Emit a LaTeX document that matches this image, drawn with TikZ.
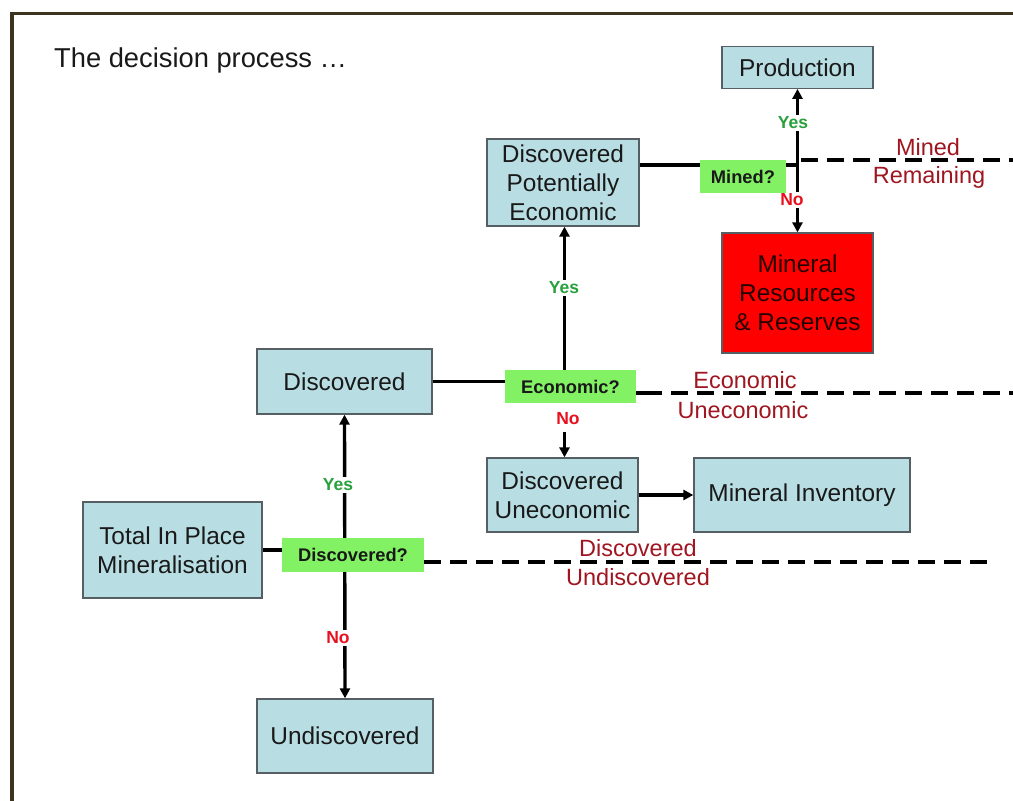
\documentclass[tikz,border=0pt]{standalone}
\usepackage{fontspec}
\setmainfont{Liberation Sans}
\usetikzlibrary{arrows.meta,backgrounds}
\definecolor{boxfill}{RGB}{184,222,227}
\definecolor{boxline}{RGB}{85,95,100}
\definecolor{qfill}{RGB}{130,242,100}
\definecolor{darkred}{RGB}{160,22,32}
\definecolor{yesgreen}{RGB}{40,160,60}
\definecolor{nored}{RGB}{232,16,30}
\definecolor{frame}{RGB}{60,52,32}
\definecolor{resred}{RGB}{255,0,0}
\begin{document}
\begin{tikzpicture}[x=1pt,y=-1pt,
  box/.style={draw=boxline,line width=1.3pt,fill=boxfill,inner sep=0pt,align=center,
    font=\fontsize{24.4}{29}\selectfont,text=black!90},
  resbox/.style={box,fill=resred,text=black!85!red},
  qbox/.style={fill=qfill,inner sep=0pt,font=\fontsize{18.3}{21}\selectfont\bfseries,text=black!90},
  yes/.style={fill=white,inner sep=2pt,text=yesgreen,font=\fontsize{17.5}{20}\selectfont\bfseries},
  no/.style={fill=white,inner sep=2pt,text=nored,font=\fontsize{17.5}{20}\selectfont\bfseries},
  lab/.style={text=darkred,inner sep=0pt,font=\fontsize{23.5}{28}\selectfont},
  conn/.style={line width=3.4pt,black},
  arr/.style={conn,-{Triangle[length=10pt,width=10pt]}},
  divide/.style={line width=4.4pt,black,dash pattern=on 17pt off 9pt}
]
\useasboundingbox (0,0) rectangle (1013,801);

\node[anchor=west,inner sep=0pt,font=\fontsize{27.3}{31}\selectfont,text=black!90] (title) at (54,60) {The decision process …};

% boxes
\node[box,minimum width=151pt,minimum height=41.5pt] (prod) at (797.5,67.5) {Production};
\node[box,minimum width=152pt,minimum height=87pt] (dpe) at (563,182.5) {Discovered\\Potentially\\Economic};
\node[qbox,minimum width=86pt,minimum height=33pt] (mq) at (743,176.5) {Mined?};
\node[resbox,minimum width=151pt,minimum height=120pt] (mrr) at (797.5,293) {Mineral\\Resources\\\& Reserves};
\node[box,minimum width=175pt,minimum height=65pt] (disc) at (344.5,381.5) {Discovered};
\node[qbox,minimum width=131pt,minimum height=33pt] (eq) at (570.5,386.5) {Economic?};
\node[box,minimum width=151pt,minimum height=74pt] (du) at (562.5,495) {Discovered\\Uneconomic};
\node[box,minimum width=216pt,minimum height=74pt] (mi) at (802,495) {Mineral Inventory};
\node[box,minimum width=179pt,minimum height=96pt] (tipm) at (172.5,550) {Total In Place\\Mineralisation};
\node[qbox,minimum width=142pt,minimum height=34pt] (dq) at (353,555) {Discovered?};
\node[box,minimum width=176pt,minimum height=74pt] (undisc) at (345,736) {Undiscovered};

% divider labels
\node[lab] (lmined) at (928,147) {Mined};
\node[lab] (lremain) at (929,177) {Remaining};
\node[lab] (lecon) at (745,380) {Economic};
\node[lab] (luneco) at (743,410) {Uneconomic};
\node[lab] (ldisc) at (638,548) {Discovered};
\node[lab] (lundisc) at (638,577) {Undiscovered};

\coordinate (mj) at (797,165);
\coordinate (mdash0) at (801,160);
\coordinate (mdash1) at (1013,160);
\coordinate (edash1) at (1013,393);
\coordinate (ddash1) at (992,562);

\begin{scope}[on background layer]
  \fill[white] (0,0) rectangle (1013,801);
  % frame
  \fill[frame] (10,12) rectangle (1013,15);
  \fill[frame] (10,12) rectangle (14,801);
  % mined decision
  \draw[conn] (dpe.east |- mj) -- (mj);
  \draw[arr,{Triangle[length=10pt,width=10pt]}-{Triangle[length=10pt,width=10pt]}] (prod.south) -- (mrr.north);
  \node[yes] (ym) at (793,123) {Yes};
  \node[no] (nm) at (792,200) {No};
  \draw[divide] (mdash0) -- (mdash1);
  % economic decision
  \draw[conn] (disc.east) -- (disc.east -| eq.west);
  \draw[arr,{Triangle[length=10pt,width=10pt]}-] ([xshift=1.5pt]dpe.south) -- ([xshift=1.5pt]dpe.south |- eq.north);
  \node[yes] (ye) at (564,288) {Yes};
  \node[no] (ne) at (568,419) {No};
  \draw[arr] ([xshift=2pt]du.north |- 0,432) -- ([xshift=2pt]du.north);
  \draw[conn] (eq.east |- edash1) -- ++(9,0);
  \draw[divide] ([xshift=9pt]eq.east |- edash1) -- (edash1);
  % discovered decision
  \draw[conn] (tipm.east) -- (tipm.east -| dq.west);
  \draw[arr,{Triangle[length=10pt,width=10pt]}-{Triangle[length=10pt,width=10pt]}] (disc.south) -- (undisc.north);
  \node[yes] (yd) at (338,485) {Yes};
  \node[no] (nd) at (338,638) {No};
  \draw[divide] (dq.east |- ddash1) -- (ddash1);
  % inventory
  \draw[arr] (du.east) -- (mi.west);
\end{scope}
\end{tikzpicture}
\end{document}
